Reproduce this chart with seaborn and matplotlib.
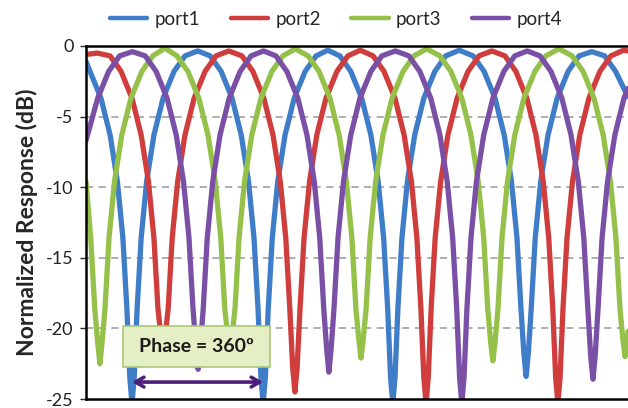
import pandas as pd
import matplotlib.pyplot as plt
import seaborn as sns
from matplotlib.patches import Rectangle

# ── Data (phase in degrees, response in dB) ────────────────────────
port1_phase = [0, 11, 41, 66, 86, 101, 112, 120, 126, 132, 140, 151, 166, 186, 211, 241, 271, 306,
               340, 370, 400, 425, 445, 460, 471, 479, 485, 491, 499, 510, 525, 545, 570, 600, 630, 662,
               695, 725, 755, 780, 800, 815, 826, 834, 840, 846, 854, 865, 880, 900, 925, 955, 985, 1022,
               1060, 1090, 1120, 1145, 1165, 1180, 1191, 1199, 1205, 1211, 1219, 1230, 1245, 1265, 1290, 1320, 1350, 1385,
               1420, 1450, 1484]
port1_db = [-1.1, -1.8, -3.7, -6.3, -9.6, -13.6, -18.6, -23.5, -25.3, -23.5, -18.6, -13.6, -9.6, -6.3, -3.7, -1.8, -0.7, -0.35,
            -0.7, -1.8, -3.7, -6.3, -9.6, -13.6, -18.6, -23.5, -25.3, -23.5, -18.6, -13.6, -9.6, -6.3, -3.7, -1.8, -0.7, -0.3,
            -0.7, -1.8, -3.7, -6.3, -9.6, -13.6, -18.6, -23.5, -25.3, -23.5, -18.6, -13.6, -9.6, -6.3, -3.7, -1.8, -0.7, -0.3,
            -0.7, -1.8, -3.7, -6.3, -9.6, -13.6, -18.6, -21.8, -23.4, -21.8, -18.6, -13.6, -9.6, -6.3, -3.7, -1.8, -0.7, -0.4,
            -0.7, -1.8, -3.6]

port2_phase = [0, 31, 66, 96, 126, 151, 171, 186, 197, 205, 211, 217, 225, 236, 251, 271, 296, 326, 356, 391,
               427, 457, 487, 512, 532, 547, 558, 566, 572, 578, 586, 597, 612, 632, 657, 687, 717, 751,
               786, 816, 846, 871, 891, 906, 917, 925, 931, 937, 945, 956, 971, 991, 1016, 1046, 1076, 1111,
               1147, 1177, 1207, 1232, 1252, 1267, 1278, 1286, 1292, 1298, 1306, 1317, 1332, 1352, 1377, 1407, 1437, 1472, 1484]
port2_db = [-0.6, -0.5, -0.7, -1.8, -3.7, -6.3, -9.6, -13.6, -18.6, -20.5, -21.8, -20.5, -18.6, -13.6, -9.6, -6.3, -3.7, -1.8, -0.7, -0.35,
            -0.7, -1.8, -3.7, -6.3, -9.6, -13.6, -18.6, -22.8, -24.5, -22.8, -18.6, -13.6, -9.6, -6.3, -3.7, -1.8, -0.7, -0.3,
            -0.7, -1.8, -3.7, -6.3, -9.6, -13.6, -18.6, -23.5, -25.3, -23.5, -18.6, -13.6, -9.6, -6.3, -3.7, -1.8, -0.7, -0.35,
            -0.7, -1.8, -3.7, -6.3, -9.6, -13.6, -18.6, -23.5, -25.3, -23.5, -18.6, -13.6, -9.6, -6.3, -3.7, -1.8, -0.7, -0.3, -0.35]

port3_phase = [0, 13, 24, 32, 38, 44, 52, 63, 78, 98, 123, 153, 183, 216,
               249, 279, 309, 334, 354, 369, 380, 388, 394, 400, 408, 419, 434, 454, 479, 509, 539, 573,
               608, 638, 668, 693, 713, 728, 739, 747, 753, 759, 767, 778, 793, 813, 838, 868, 898, 933,
               969, 999, 1029, 1054, 1074, 1089, 1100, 1108, 1114, 1120, 1128, 1139, 1154, 1174, 1199, 1229, 1259, 1295,
               1331, 1361, 1391, 1416, 1436, 1451, 1462, 1470, 1476, 1482, 1484]
port3_db = [-9.6, -13.6, -18.6, -21.0, -22.5, -21.0, -18.6, -13.6, -9.6, -6.3, -3.7, -1.8, -0.7, -0.15,
            -0.7, -1.8, -3.7, -6.3, -9.6, -13.6, -18.6, -20.5, -21.5, -20.5, -18.6, -13.6, -9.6, -6.3, -3.7, -1.8, -0.7, -0.2,
            -0.7, -1.8, -3.7, -6.3, -9.6, -13.6, -18.6, -20.8, -22.1, -20.8, -18.6, -13.6, -9.6, -6.3, -3.7, -1.8, -0.7, -0.2,
            -0.7, -1.8, -3.7, -6.3, -9.6, -13.6, -18.6, -21.0, -22.3, -21.0, -18.6, -13.6, -9.6, -6.3, -3.7, -1.8, -0.7, -0.2,
            -0.7, -1.8, -3.7, -6.3, -9.6, -13.6, -18.6, -20.8, -22.0, -20.8, -20.2]

port4_phase = [0, 32, 62, 92, 127, 162, 192, 222, 247, 267, 282, 293, 301, 307, 313, 321, 332, 347, 367, 392, 422, 452, 486,
               520, 550, 580, 605, 625, 640, 651, 659, 665, 671, 679, 690, 705, 725, 750, 780, 810, 847,
               884, 914, 944, 969, 989, 1004, 1015, 1023, 1029, 1035, 1043, 1054, 1069, 1089, 1114, 1144, 1174, 1208,
               1243, 1273, 1303, 1328, 1348, 1363, 1374, 1382, 1388, 1394, 1402, 1413, 1428, 1448, 1473, 1484]
port4_db = [-6.7, -3.7, -1.8, -0.7, -0.4, -0.7, -1.8, -3.7, -6.3, -9.6, -13.6, -18.6, -21.3, -22.9, -21.3, -18.6, -13.6, -9.6, -6.3, -3.7, -1.8, -0.7, -0.35,
            -0.7, -1.8, -3.7, -6.3, -9.6, -13.6, -18.6, -21.5, -23.1, -21.5, -18.6, -13.6, -9.6, -6.3, -3.7, -1.8, -0.7, -0.35,
            -0.7, -1.8, -3.7, -6.3, -9.6, -13.6, -18.6, -23.5, -25.3, -23.5, -18.6, -13.6, -9.6, -6.3, -3.7, -1.8, -0.7, -0.35,
            -0.7, -1.8, -3.7, -6.3, -9.6, -13.6, -18.6, -22.0, -23.6, -22.0, -18.6, -13.6, -9.6, -6.3, -3.7, -3.0]

ports = ['port1', 'port2', 'port3', 'port4']
colors = ['#3f7dc8', '#cf3d3d', '#95c14a', '#7a50a6']
y_ticks = [0, -5, -10, -15, -20, -25]

# annotation: one full period between two port1 nulls
arrow_start, arrow_end, arrow_y = 126, 485, -23.8
box_x0, box_x1, box_y0, box_y1 = 101, 504, -22.7, -19.85

# ── Long-form frame ────────────────────────────────────────────────
frames = []
for name, ph, db in zip(ports, [port1_phase, port2_phase, port3_phase, port4_phase],
                        [port1_db, port2_db, port3_db, port4_db]):
    frames.append(pd.DataFrame({'phase': ph, 'dB': db, 'port': name}))
df = pd.concat(frames, ignore_index=True)

# ── Plot ──────────────────────────────────────────────────────────
sns.set_style('white')
plt.rcParams['font.family'] = ['Lato', 'DejaVu Sans']

fig = plt.figure(figsize=(6.28, 4.08), dpi=100)
ax = fig.add_axes([86 / 628, 1 - 399 / 408, 1 - 86 / 628, (399 - 46) / 408])

sns.lineplot(data=df, x='phase', y='dB', hue='port', palette=colors,
             estimator=None, linewidth=3.8, ax=ax, legend=True)

ax.set_xlim(0, 1484)
ax.set_ylim(-25, 0)
ax.set_yticks(y_ticks)
ax.set_yticklabels([str(t) for t in y_ticks], fontsize=13, color='#222222')
ax.set_xticks([])
ax.set_xlabel('')
ax.set_ylabel('Normalized Response (dB)', fontsize=16.5, fontweight='bold', labelpad=6)
ax.tick_params(axis='y', length=4, width=1, pad=5, left=True)

for t in [-5, -10, -15, -20]:
    ax.axhline(t, color='#a8a8a8', lw=1.3, ls=(0, (4, 3)), zorder=0)

for s in ['top', 'bottom', 'left']:
    ax.spines[s].set_color('black')
    ax.spines[s].set_linewidth(1.8)
ax.spines['right'].set_visible(False)

# annotation box + arrow
ax.add_patch(Rectangle((box_x0, box_y0), box_x1 - box_x0, box_y1 - box_y0,
                       facecolor='#e5efc6', edgecolor='#aac77a', lw=1.2, zorder=5))
ax.text((box_x0 + box_x1) / 2, (box_y0 + box_y1) / 2, 'Phase = 360º',
        ha='center', va='center', fontsize=14, fontweight='bold', color='#1a1a1a', zorder=6)
ax.annotate('', xy=(arrow_end, arrow_y), xytext=(arrow_start, arrow_y),
            arrowprops=dict(arrowstyle='<->,head_length=0.6,head_width=0.35',
                            color='#4b1f7a', lw=2.6, shrinkA=0, shrinkB=0), zorder=6)

handles, labels = ax.get_legend_handles_labels()
ax.get_legend().remove()
leg = fig.legend(handles, labels, loc='center', bbox_to_anchor=(0.535, 0.953), ncol=4,
                 frameon=False, fontsize=13.5, handlelength=2.0, handletextpad=0.4,
                 columnspacing=1.6)
for line in leg.get_lines():
    line.set_linewidth(3.2)

fig.savefig('out.png', dpi=100)
